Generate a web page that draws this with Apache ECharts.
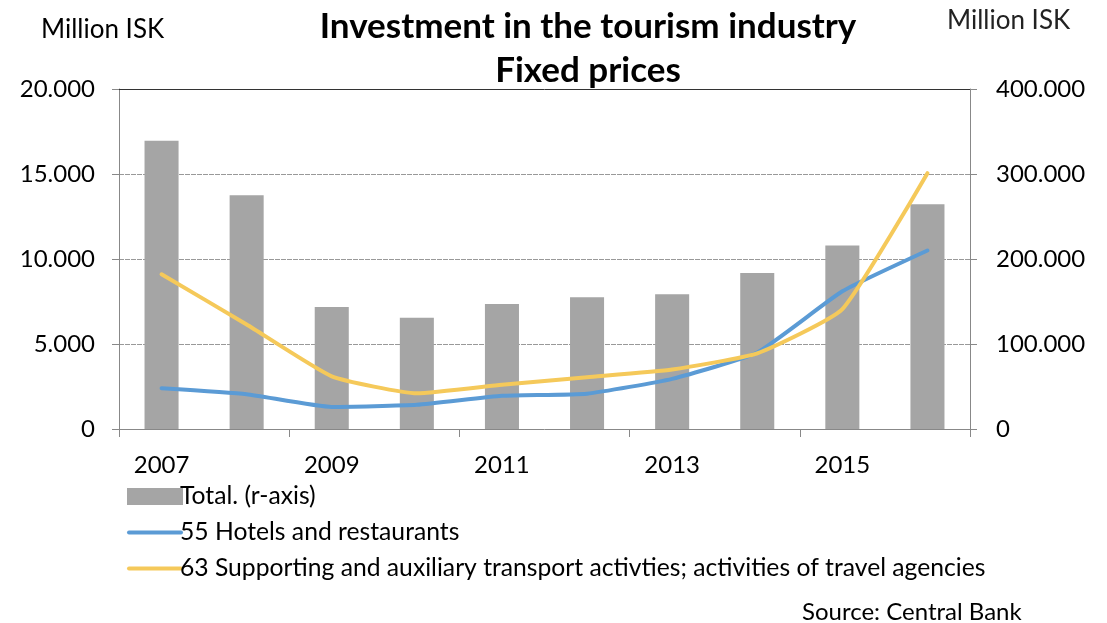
<!DOCTYPE html>
<html>
<head>
<meta charset="utf-8">
<script src="https://cdn.jsdelivr.net/npm/echarts@6/dist/echarts.min.js"></script>
<style>
html,body{margin:0;padding:0;background:#fff;}
#chart{width:1107px;height:623px;}
</style>
</head>
<body>
<div id="chart"></div>
<script>
// data
var years = ['2007', '2008', '2009', '2010', '2011', '2012', '2013', '2014', '2015', '2016'];
var totalData = [339000, 275000, 143500, 131000, 147000, 155000, 158500, 183500, 216000, 264500];
var hotelsData = [2400, 2050, 1300, 1420, 1950, 2080, 2950, 4500, 8100, 10500];
var supportData = [9100, 6150, 3100, 2100, 2600, 3050, 3500, 4450, 7050, 15050];
var leftTicks = [0, 5000, 10000, 15000, 20000];
var rightTicks = [0, 100000, 200000, 300000, 400000];

var fontFam = 'Lato, "Open Sans", sans-serif';

function fmt(v){
	return String(v).replace(/\B(?=(\d{3})+(?!\d))/g, '.');
}

var chart = echarts.init(document.getElementById('chart'));
var option = {
	backgroundColor: '#fff',
	animation: false,
	textStyle: {fontFamily: fontFam},
	title: [
		{
			text: 'Investment in the tourism industry\nFixed prices',
			left: 583, top: 0, textAlign: 'center',
			textStyle: {fontSize: 35, fontWeight: 'bold', color: '#000', lineHeight: 44, fontFamily: fontFam}
		},
		{
			text: 'Million ISK', left: 36, top: 12,
			textStyle: {fontSize: 26, fontWeight: 'normal', color: '#000', fontFamily: fontFam}
		},
		{
			text: 'Million ISK', left: 942, top: 3,
			textStyle: {fontSize: 26, fontWeight: 'normal', color: '#222', fontFamily: fontFam}
		},
		{
			text: 'Source: Central Bank', left: 797, top: 595,
			textStyle: {fontSize: 24, fontWeight: 'normal', color: '#000', fontFamily: fontFam}
		}
	],
	legend: {
		orient: 'vertical',
		left: 122, top: 479,
		itemGap: 11,
		itemWidth: 56, itemHeight: 24,
		textStyle: {fontSize: 24.7, color: '#000', padding: [0, 0, 0, -8], fontFamily: fontFam},
		data: [
			{name: 'Total. (r-axis)', icon: 'path://M2,4 L54,4 L54,20 L2,20 Z'},
			{name: '55 Hotels and restaurants', icon: 'path://M2,10 L54,10 A2,2 0 0 1 54,14 L2,14 A2,2 0 0 1 2,10 Z'},
			{name: '63 Supporting and auxiliary transport activties; activities of travel agencies', icon: 'path://M2,10 L54,10 A2,2 0 0 1 54,14 L2,14 A2,2 0 0 1 2,10 Z'}
		]
	},
	grid: {left: 119, right: 137, top: 89, bottom: 194},
	xAxis: {
		type: 'category',
		data: years,
		axisLine: {lineStyle: {color: '#888', width: 1}},
		axisTick: {show: true, length: 8, lineStyle: {color: '#888'}},
		axisLabel: {interval: 1, fontSize: 24, color: '#000', margin: 24},
		splitLine: {show: false}
	},
	yAxis: [
		{
			type: 'value', min: 0, max: 20000, interval: 5000,
			axisLine: {show: true, lineStyle: {color: '#888'}},
			axisTick: {show: true, length: 7, lineStyle: {color: '#888'}},
			axisLabel: {fontSize: 24, color: '#000', margin: 24, formatter: fmt},
			splitLine: {show: true, lineStyle: {color: '#999', type: [5, 1], width: 1}}
		},
		{
			type: 'value', min: 0, max: 400000, interval: 100000,
			axisLine: {show: true, lineStyle: {color: '#888'}},
			axisTick: {show: true, length: 7, lineStyle: {color: '#888'}},
			axisLabel: {fontSize: 24, color: '#000', margin: 26, formatter: fmt},
			splitLine: {show: false}
		}
	],
	series: [
		{
			name: 'Total. (r-axis)',
			type: 'bar',
			yAxisIndex: 1,
			barWidth: '40%',
			itemStyle: {color: '#a5a5a5'},
			data: totalData
		},
		{
			name: '55 Hotels and restaurants',
			type: 'line',
			yAxisIndex: 0,
			smooth: 0.15,
			symbol: 'none',
			lineStyle: {color: '#5b9bd5', width: 4, cap: 'round', join: 'round'},
			itemStyle: {color: '#5b9bd5'},
			data: hotelsData
		},
		{
			name: '63 Supporting and auxiliary transport activties; activities of travel agencies',
			type: 'line',
			yAxisIndex: 0,
			smooth: 0.15,
			symbol: 'none',
			lineStyle: {color: '#f5c95a', width: 4, cap: 'round', join: 'round'},
			itemStyle: {color: '#f5c95a'},
			data: supportData
		}
	],
	graphic: [
		{
			type: 'line',
			shape: {x1: 119, y1: 89.5, x2: 970, y2: 89.5},
			style: {stroke: '#333', lineWidth: 1},
			z: 10
		}
	]
};
chart.setOption(option);
</script>
</body>
</html>
